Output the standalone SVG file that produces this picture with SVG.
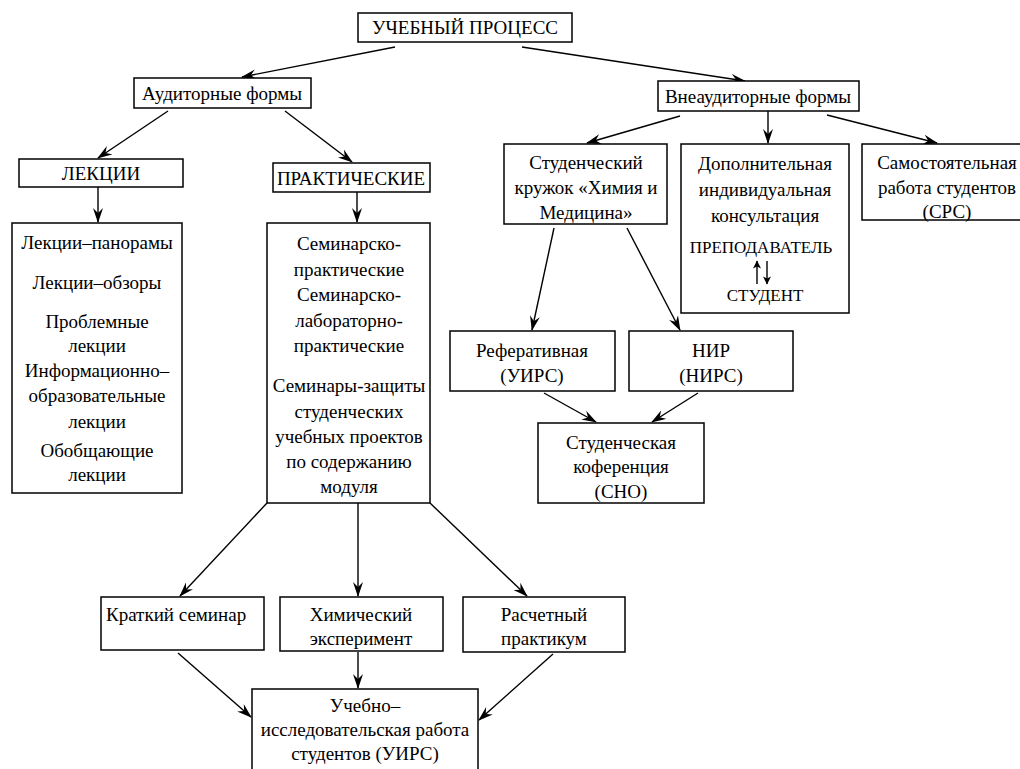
<svg xmlns="http://www.w3.org/2000/svg" width="1020" height="769" viewBox="0 0 1020 769">
<style>
.b{fill:#fff;stroke:#000;stroke-width:1.5}
.t{font-family:'Liberation Serif','Times New Roman',serif;font-size:19px;fill:#000;text-anchor:middle}
.s{font-size:17px}
.c line{stroke:#000;stroke-width:1.4;marker-end:url(#ah)}
</style>
<defs>
<marker id="ah" viewBox="0 0 15 10" refX="14" refY="5" markerWidth="15" markerHeight="10" markerUnits="userSpaceOnUse" orient="auto">
<path d="M0,0 L15,5 L0,10 L5,5 z" fill="#000"/>
</marker>
<marker id="sh" viewBox="0 0 8 8" refX="7.5" refY="4" markerWidth="9" markerHeight="8" markerUnits="userSpaceOnUse" orient="auto">
<path d="M0,0 L8,4 L0,8 L2,4 z" fill="#000"/>
</marker>
</defs>
<rect width="1020" height="769" fill="#fff"/>
<g class="c" id="connectors">
<line x1="395" y1="47" x2="242" y2="77"/>
<line x1="522" y1="47" x2="745" y2="81"/>
<line x1="168" y1="111" x2="98" y2="158"/>
<line x1="285" y1="111" x2="352" y2="162"/>
<line x1="98" y1="187" x2="98" y2="222"/>
<line x1="357" y1="192" x2="357" y2="222"/>
<line x1="680" y1="116" x2="587" y2="143"/>
<line x1="768" y1="111" x2="768" y2="143"/>
<line x1="827" y1="115" x2="937" y2="143"/>
<line x1="554" y1="228" x2="532" y2="330"/>
<line x1="627" y1="228" x2="680" y2="330"/>
<line x1="544" y1="393" x2="596" y2="422"/>
<line x1="698" y1="393" x2="652" y2="422"/>
<line x1="267" y1="503" x2="180" y2="596"/>
<line x1="358" y1="503" x2="358" y2="596"/>
<line x1="430" y1="503" x2="527" y2="596"/>
<line x1="178" y1="653" x2="251" y2="717"/>
<line x1="358" y1="652" x2="358" y2="688"/>
<line x1="553" y1="654" x2="479" y2="720"/>
</g>
<g id="n-process"><rect class="b" x="358" y="13" width="214" height="29"/><text class="t" x="465" y="34">УЧЕБНЫЙ ПРОЦЕСС</text></g>
<g id="n-aud"><rect class="b" x="134" y="78" width="177" height="30"/><text class="t" x="222" y="100">Аудиторные формы</text></g>
<g id="n-vneaud"><rect class="b" x="658" y="81" width="201" height="30"/><text class="t" x="758" y="103">Внеаудиторные формы</text></g>
<g id="n-lek"><rect class="b" x="19" y="159" width="164" height="28"/><text class="t" x="101" y="180">ЛЕКЦИИ</text></g>
<g id="n-prak"><rect class="b" x="273" y="163" width="157" height="29"/><text class="t" x="351" y="185">ПРАКТИЧЕСКИЕ</text></g>
<g id="n-leklist"><rect class="b" x="12" y="223" width="170" height="270"/>
<text class="t" x="97"><tspan x="97" y="249">Лекции–панорамы</tspan><tspan x="97" y="289">Лекции–обзоры</tspan><tspan x="97" y="328">Проблемные</tspan><tspan x="97" y="352">лекции</tspan><tspan x="97" y="377">Информационно–</tspan><tspan x="97" y="402">образовательные</tspan><tspan x="97" y="428">лекции</tspan><tspan x="97" y="457">Обобщающие</tspan><tspan x="97" y="481">лекции</tspan></text></g>
<g id="n-praklist"><rect class="b" x="267" y="223" width="163" height="280"/>
<text class="t" x="349"><tspan x="349" y="250">Семинарско-</tspan><tspan x="349" y="276">практические</tspan><tspan x="349" y="301">Семинарско-</tspan><tspan x="349" y="327">лабораторно-</tspan><tspan x="349" y="352">практические</tspan><tspan x="349" y="392">Семинары-защиты</tspan><tspan x="349" y="418">студенческих</tspan><tspan x="349" y="443">учебных проектов</tspan><tspan x="349" y="468">по содержанию</tspan><tspan x="349" y="493">модуля</tspan></text></g>
<g id="n-kruzhok"><rect class="b" x="504" y="144" width="163" height="80"/>
<text class="t" x="586"><tspan x="586" y="169">Студенческий</tspan><tspan x="586" y="194">кружок «Химия и</tspan><tspan x="586" y="219">Медицина»</tspan></text></g>
<g id="n-dop"><rect class="b" x="681" y="144" width="168" height="169"/>
<text class="t" x="765"><tspan x="765" y="170">Дополнительная</tspan><tspan x="765" y="196">индивидуальная</tspan><tspan x="765" y="222">консультация</tspan></text>
<text class="t s" x="761" y="253">ПРЕПОДАВАТЕЛЬ</text>
<line x1="757" y1="284" x2="757" y2="261" stroke="#000" stroke-width="1.4" marker-end="url(#sh)"/>
<line x1="767" y1="261" x2="767" y2="284" stroke="#000" stroke-width="1.4" marker-end="url(#sh)"/>
<text class="t s" x="765" y="301">СТУДЕНТ</text></g>
<g id="n-srs"><rect class="b" x="862" y="144" width="170" height="76"/>
<text class="t" x="947"><tspan x="947" y="169">Самостоятельная</tspan><tspan x="947" y="194">работа студентов</tspan><tspan x="947" y="218">(СРС)</tspan></text></g>
<g id="n-ref"><rect class="b" x="450" y="331" width="165" height="60"/>
<text class="t" x="532"><tspan x="532" y="357">Реферативная</tspan><tspan x="532" y="382">(УИРС)</tspan></text></g>
<g id="n-nir"><rect class="b" x="629" y="331" width="164" height="60"/>
<text class="t" x="711"><tspan x="711" y="357">НИР</tspan><tspan x="711" y="382">(НИРС)</tspan></text></g>
<g id="n-konf"><rect class="b" x="538" y="423" width="166" height="80"/>
<text class="t" x="621"><tspan x="621" y="449">Студенческая</tspan><tspan x="621" y="473">коференция</tspan><tspan x="621" y="498">(СНО)</tspan></text></g>
<g id="n-kratk"><rect class="b" x="101" y="597" width="163" height="53"/><text class="t" x="106" y="621" style="text-anchor:start">Краткий семинар</text></g>
<g id="n-him"><rect class="b" x="280" y="597" width="163" height="54"/>
<text class="t" x="361"><tspan x="361" y="621">Химический</tspan><tspan x="361" y="645">эксперимент</tspan></text></g>
<g id="n-rasch"><rect class="b" x="463" y="597" width="162" height="55"/>
<text class="t" x="544"><tspan x="544" y="621">Расчетный</tspan><tspan x="544" y="645">практикум</tspan></text></g>
<g id="n-uirs"><rect class="b" x="252" y="689" width="226" height="90"/>
<text class="t" x="365"><tspan x="365" y="712">Учебно–</tspan><tspan x="365" y="736">исследовательская работа</tspan><tspan x="365" y="760">студентов (УИРС)</tspan></text></g>
</svg>
